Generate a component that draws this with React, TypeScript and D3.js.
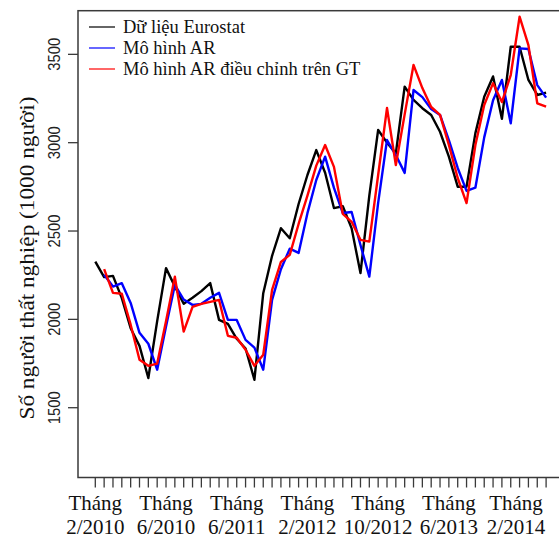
import * as d3 from "d3";

// Quarter/month index 0..51, values in 1000 persons
const eurostat = [
  2327, 2239, 2246, 2120, 1950, 1850, 1668, 1990, 2290, 2186,
  2088, 2122, 2160, 2205, 1997, 1975, 1890, 1835, 1658, 2148,
  2360, 2516, 2459, 2653, 2817, 2958, 2830, 2630, 2640, 2515,
  2262, 2700, 3072, 3000, 2940, 3317, 3242, 3195, 3157, 3062,
  2921, 2751, 2751, 3054, 3260, 3375, 3135, 3543, 3543, 3355,
  3270, 3283,
];

const arModel = [
  null, 2252, 2186, 2205, 2093, 1924, 1862, 1715, 1960, 2195,
  2112, 2082, 2088, 2122, 2150, 1997, 1997, 1884, 1840, 1715,
  2110, 2284, 2400, 2376, 2601, 2789, 2921, 2744, 2602, 2608,
  2421, 2242, 2659, 3015, 2930, 2829, 3298, 3258, 3190, 3157,
  3015, 2857, 2727, 2745, 3030, 3240, 3355, 3110, 3534, 3530,
  3326, 3255,
];

const arGtModel = [
  null, 2284, 2150, 2145, 1970, 1771, 1737, 1750, 1990, 2242,
  1931, 2071, 2088, 2099, 2110, 1907, 1896, 1828, 1737, 1800,
  2167, 2325, 2365, 2540, 2700, 2870, 2987, 2863, 2597, 2552,
  2450, 2440, 2817, 3196, 2874, 3160, 3440, 3309, 3202, 3157,
  2987, 2800, 2658, 2987, 3213, 3337, 3230, 3383, 3713, 3552,
  3223, 3204,
];

const xLabelTop = ["Tháng", "Tháng", "Tháng", "Tháng", "Tháng", "Tháng", "Tháng"];
const xLabelBottom = ["2/2010", "6/2010", "6/2011", "2/2012", "10/2012", "6/2013", "2/2014"];
const xLabelAt = [0, 8, 16, 24, 32, 40, 47.6];
const yTicks = [1500, 2000, 2500, 3000, 3500];

const legendNames = ["Dữ liệu Eurostat", "Mô hình AR", "Mô hình AR điều chỉnh trên GT"];
const seriesColors = ["#000000", "#0000ff", "#ff0000"];

const W = 559;
const H = 536;
const SERIF = "'Liberation Serif', 'Times New Roman', serif";
const SANS = "'Liberation Sans', Arial, sans-serif";

const App = () => {
  const box = { left: 78, right: 563, top: 10.7, bottom: 477.5 };

  const x = d3.scaleLinear().domain([0, eurostat.length - 1]).range([95.3, 546.1]);
  const y = d3.scaleLinear().domain([1105, 3747]).range([box.bottom, box.top]);

  const line = d3
    .line<number | null>()
    .defined((d) => d != null)
    .x((_, i) => x(i))
    .y((d) => y(d as number));

  const series = [eurostat, arModel, arGtModel];

  return (
    <svg
      width={W}
      height={H}
      style={{ position: "absolute", left: 0, top: 0, background: "#fff" }}
    >
      <rect width={W} height={H} fill="#fff" />

      {series.map((s, k) => (
        <path
          key={k}
          d={line(s) || ""}
          fill="none"
          stroke={seriesColors[k]}
          strokeWidth={2.4}
          strokeLinejoin="round"
        />
      ))}

      {/* plot box */}
      <rect
        x={box.left}
        y={box.top}
        width={box.right - box.left}
        height={box.bottom - box.top}
        fill="none"
        stroke="#3a3a3a"
        strokeWidth={1.5}
      />

      {/* y axis */}
      {yTicks.map((t) => (
        <g key={t}>
          <line x1={box.left} x2={box.left - 10} y1={y(t)} y2={y(t)} stroke="#3a3a3a" strokeWidth={1.3} />
          <text
            transform={`translate(60,${y(t)}) rotate(-90)`}
            textAnchor="middle"
            fontFamily={SANS}
            fontSize={17}
            textLength={33}
            lengthAdjust="spacingAndGlyphs"
            fill="#222"
          >
            {t}
          </text>
        </g>
      ))}

      <text
        transform={`translate(34,258) rotate(-90)`}
        textAnchor="middle"
        fontFamily={SERIF}
        fontSize={20.5}
        textLength={323}
        lengthAdjust="spacingAndGlyphs"
        fill="#111"
      >
        Số người thất nghiệp (1000 người)
      </text>

      {/* x axis ticks */}
      {eurostat.map((_, i) => (
        <line
          key={i}
          x1={x(i)}
          x2={x(i)}
          y1={box.bottom}
          y2={box.bottom + 10}
          stroke="#3a3a3a"
          strokeWidth={1.3}
        />
      ))}

      {xLabelAt.map((p, i) => (
        <g key={i} fontFamily={SERIF} fontSize={21} fill="#111" textAnchor="middle">
          <text x={x(p)} y={510}>
            {xLabelTop[i]}
          </text>
          <text x={x(p)} y={534}>
            {xLabelBottom[i]}
          </text>
        </g>
      ))}

      {/* legend */}
      {legendNames.map((name, i) => (
        <g key={name}>
          <line x1={89} x2={115} y1={27 + i * 21} y2={27 + i * 21} stroke={seriesColors[i]} strokeWidth={1.2} />
          <text x={123} y={33 + i * 21} fontFamily={SERIF} fontSize={18.5} fill="#111">
            {name}
          </text>
        </g>
      ))}
    </svg>
  );
};

export default App;
